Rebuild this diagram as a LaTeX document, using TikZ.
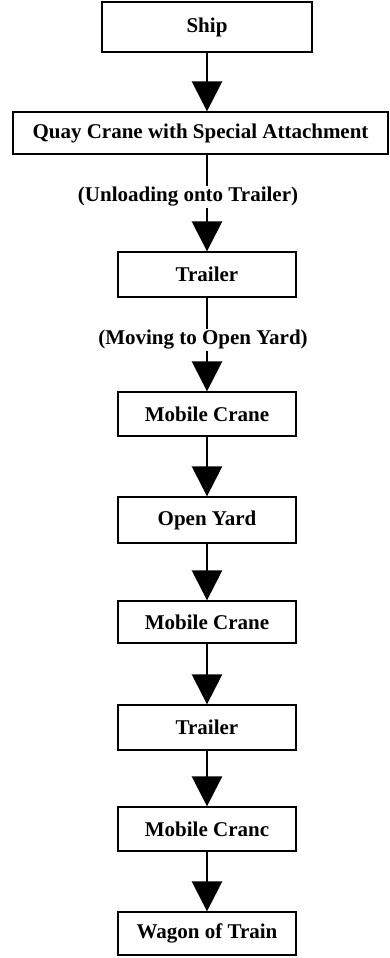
\documentclass[tikz,border=0pt]{standalone}
\usepackage{fontspec}
\setmainfont{Liberation Serif}
\usetikzlibrary{arrows.meta}
\begin{document}
\begin{tikzpicture}[x=1pt,y=1pt,
  txt/.style={font=\fontsize{21}{25}\selectfont\bfseries},
  box/.style={txt, draw=black, line width=1.3pt, minimum width=178pt, inner sep=0pt},
  lbl/.style={txt, inner sep=1pt},
  stem/.style={line width=2.6pt},
  arr/.style={line width=2.6pt, -{Triangle[width=30pt,length=30pt]}}]
\fill[white] (0,0) rectangle (390,-958);
\useasboundingbox (0,0) rectangle (390,-958);
% boxes
\node[box, minimum width=210pt, minimum height=50pt] (ship) at (207,-27) {Ship};
\node[box, minimum width=375pt, minimum height=42pt] (quay) at (200.5,-133) {Quay Crane with Special Attachment};
\node[lbl] (lab1) at (188,-197) {(Unloading onto Trailer)};
\node[box, minimum height=45pt] (tr1) at (207,-274.5) {Trailer};
\node[lbl] (lab2) at (203,-340) {(Moving to Open Yard)};
\node[box, minimum height=44pt] (mc1) at (207,-414) {Mobile Crane};
\node[box, minimum height=46pt] (oy) at (207,-520) {Open Yard};
\node[box, minimum height=42pt] (mc2) at (207,-622) {Mobile Crane};
\node[box, minimum height=45pt] (tr2) at (207,-727.5) {Trailer};
\node[box, minimum height=44pt] (mc3) at (207,-829) {Mobile Cranc};
\node[box, minimum height=43pt] (wag) at (207,-933.5) {Wagon of Train};
% connectors
\draw[arr] (ship.south) -- (quay.north -| ship.south);
\draw[stem] (quay.south -| tr1.north) -- (lab1.north -| tr1.north);
\draw[arr] (lab1.south -| tr1.north) -- (tr1.north);
\draw[stem] (tr1.south) -- (lab2.north -| tr1.south);
\draw[arr] (lab2.south -| mc1.north) -- (mc1.north);
\draw[arr] (mc1.south) -- (oy.north);
\draw[arr] (oy.south) -- (mc2.north);
\draw[arr] (mc2.south) -- (tr2.north);
\draw[arr] (tr2.south) -- (mc3.north);
\draw[arr] (mc3.south) -- (wag.north);
\end{tikzpicture}
\end{document}
